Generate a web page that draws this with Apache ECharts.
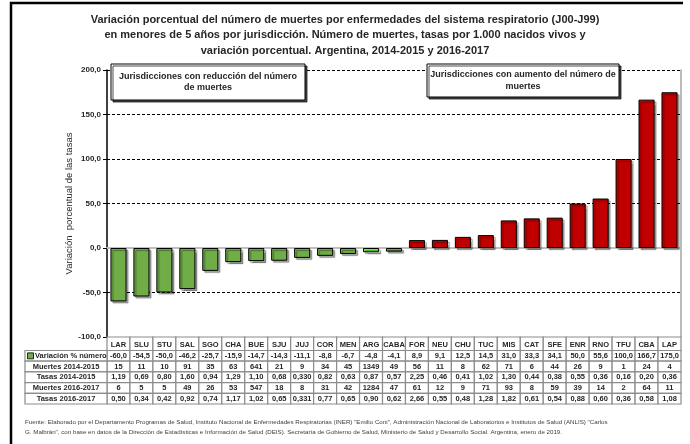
<!DOCTYPE html>
<html>
<head>
<meta charset="utf-8">
<script src="https://cdn.jsdelivr.net/npm/echarts@6/dist/echarts.min.js"></script>
<style>
  html, body { margin: 0; padding: 0; background: #fff; }
  #main { width: 690px; height: 444px; }
</style>
</head>
<body>
<div id="main"></div>
<script>
  // datos por jurisdicción
  var jurisdicciones = ['LAR','SLU','STU','SAL','SGO','CHA','BUE','SJU','JUJ','COR','MEN','ARG','CABA',
                        'FOR','NEU','CHU','TUC','MIS','CAT','SFE','ENR','RNO','TFU','CBA','LAP'];
  var variacion = [-60.0,-54.5,-50.0,-46.2,-25.7,-15.9,-14.7,-14.3,-11.1,-8.8,-6.7,-4.8,-4.1,
                   8.9,9.1,12.5,14.5,31.0,33.3,34.1,50.0,55.6,100.0,166.7,175.0];
  var muertes1415 = [15,11,10,91,35,63,641,21,9,34,45,1349,49,56,11,8,62,71,6,44,26,9,1,24,4];
  var tasas1415 = ['1,19','0,69','0,80','1,60','0,94','1,29','1,10','0,68','0,330','0,82','0,63','0,87','0,57',
                   '2,25','0,46','0,41','1,02','1,30','0,44','0,38','0,55','0,36','0,16','0,20','0,36'];
  var muertes1617 = [6,5,5,49,26,53,547,18,8,31,42,1284,47,61,12,9,71,93,8,59,39,14,2,64,11];
  var tasas1617 = ['0,50','0,34','0,42','0,92','0,74','1,17','1,02','0,65','0,331','0,77','0,65','0,90','0,62',
                   '2,66','0,55','0,48','1,28','1,82','0,61','0,54','0,88','0,60','0,36','0,58','1,08'];
  var filas = ['Variación % número','Muertes 2014-2015','Tasas 2014-2015','Muertes 2016-2017','Tasas 2016-2017'];

  var FONT = "'Liberation Sans', Arial, sans-serif";
  var VERDE = '#70ad47', VERDE_ARG = '#66ff33', ROJO = '#c00000';

  function fmt(v) { return v.toFixed(1).replace('.', ','); }

  var chart = echarts.init(document.getElementById('main'));

  chart.setOption({
    animation: false,
    title: {
      text: 'Variación porcentual del número de muertes por enfermedades del sistema respiratorio (J00-J99)\n' +
            'en menores de 5 años por jurisdicción. Número de muertes, tasas por 1.000 nacidos vivos y\n' +
            'variación porcentual. Argentina, 2014-2015 y 2016-2017',
      left: 'center',
      top: 7,
      textStyle: { fontFamily: FONT, fontSize: 11, fontWeight: 'bold', color: '#262626', lineHeight: 15.5 }
    },
    grid: { left: 107, right: 9, top: 70, bottom: 107 },
    xAxis: {
      type: 'category',
      data: jurisdicciones,
      axisLine: { onZero: true, lineStyle: { color: '#bfbfbf', width: 2 } },
      axisTick: { show: false },
      axisLabel: { show: false }
    },
    yAxis: [{
      type: 'value',
      min: -100, max: 200, interval: 50,
      name: 'Variación  porcentual de las tasas',
      nameLocation: 'middle',
      nameGap: 33,
      nameMoveOverlap: false,
      nameTextStyle: { fontFamily: FONT, fontSize: 9.5, color: '#262626' },
      axisLine: { show: true, lineStyle: { color: '#000', width: 1.5 } },
      axisTick: { show: true, length: 4, lineStyle: { color: '#000' } },
      axisLabel: { formatter: fmt, margin: 6, fontFamily: FONT, fontSize: 8, fontWeight: 'bold', color: '#262626' },
      splitLine: { lineStyle: { color: '#000', type: [3, 2], width: 1 } }
    }, {
      type: 'value',
      position: 'right',
      min: -100, max: 200, interval: 50,
      axisLine: { show: true, lineStyle: { color: '#a6a6a6', width: 1.5 } },
      axisTick: { show: false },
      axisLabel: { show: false },
      splitLine: { show: false }
    }],
    series: [{
      type: 'bar',
      barCategoryGap: '30%',
      data: variacion.map(function (v, i) {
        var c = v >= 0 ? ROJO : (jurisdicciones[i] === 'ARG' ? VERDE_ARG : VERDE);
        return { value: v, itemStyle: { color: c } };
      }),
      itemStyle: {
        borderColor: '#000', borderWidth: 1,
        shadowColor: 'rgba(0,0,0,0.35)', shadowOffsetX: 2, shadowOffsetY: 2, shadowBlur: 1
      }
    }]
  });

  // tabla de datos debajo del gráfico, alineada con las categorías
  var x0 = chart.convertToPixel({ xAxisIndex: 0 }, jurisdicciones[0]);
  var paso = chart.convertToPixel({ xAxisIndex: 0 }, jurisdicciones[1]) - x0;
  var yTop = chart.convertToPixel({ yAxisIndex: 0 }, -100);
  var gridLeft = 107, labelLeft = 25;
  var hHead = 13.5, hRow = 10.7;
  var valores = [variacion.map(fmt), muertes1415, tasas1415, muertes1617, tasas1617];
  var g = [];
  var borde = { stroke: '#8c8c8c', lineWidth: 1.2, fill: '#fff' };
  var txt = { fontFamily: FONT, fontSize: 7.5, fontWeight: 'bold', fill: '#262626', align: 'center', verticalAlign: 'middle' };

  jurisdicciones.forEach(function (j, i) {
    var cx = x0 + i * paso;
    g.push({ type: 'rect', shape: { x: cx - paso / 2, y: yTop, width: paso, height: hHead }, style: borde, z: 10 });
    g.push({ type: 'text', x: cx, y: yTop + hHead / 2 + 1, style: Object.assign({ text: j }, txt), z: 11 });
    valores.forEach(function (arr, r) {
      var y = yTop + hHead + r * hRow;
      g.push({ type: 'rect', shape: { x: cx - paso / 2, y: y, width: paso, height: hRow }, style: borde, z: 10 });
      g.push({ type: 'text', x: cx, y: y + hRow / 2, style: Object.assign({ text: String(arr[i]) }, txt), z: 11 });
    });
  });
  filas.forEach(function (f, r) {
    var y = yTop + hHead + r * hRow;
    g.push({ type: 'rect', shape: { x: labelLeft, y: y, width: gridLeft - labelLeft, height: hRow }, style: borde, z: 10 });
    if (r === 0) {
      g.push({ type: 'rect', shape: { x: labelLeft + 2.5, y: y + hRow / 2 - 3, width: 6, height: 6 },
               style: { fill: VERDE, stroke: '#000', lineWidth: 0.8 }, z: 11 });
      g.push({ type: 'text', x: labelLeft + 10, y: y + hRow / 2, style: Object.assign({ text: f }, txt, { align: 'left' }), z: 11 });
    } else {
      g.push({ type: 'text', x: (labelLeft + gridLeft) / 2, y: y + hRow / 2, style: Object.assign({ text: f }, txt), z: 11 });
    }
  });

  // recuadros de anotación
  function recuadro(x, y, w, h, texto) {
    g.push({ type: 'rect', shape: { x: x, y: y, width: w, height: h },
             style: { fill: '#fff', stroke: '#000', lineWidth: 1, shadowColor: 'rgba(0,0,0,0.7)', shadowOffsetX: 2, shadowOffsetY: 2 }, z: 20 });
    g.push({ type: 'text', x: x + w / 2, y: y + h / 2,
             style: { text: texto, fontFamily: FONT, fontSize: 9, fontWeight: 'bold', fill: '#262626',
                      align: 'center', verticalAlign: 'middle', lineHeight: 11.5 }, z: 21 });
  }
  recuadro(111, 64, 194, 36, 'Jurisdicciones con reducción del número\nde muertes');
  recuadro(427, 64, 192, 33, 'Jurisdicciones con aumento del número de\nmuertes');

  // marco exterior y fuente
  g.push({ type: 'polyline', shape: { points: [[11, 450], [11, 3], [683, 3]] }, style: { stroke: '#000', lineWidth: 2.5, fill: null }, z: 30 });
  g.push({ type: 'text', x: 25, y: 417,
           style: { text: 'Fuente: Elaborado por el Departamento Programas de Salud, Instituto Nacional de Enfermedades Respiratorias (INER) "Emilio Coni", Administración Nacional de Laboratorios e Institutos de Salud (ANLIS) "Carlos\n' +
                          'G. Malbrán", con base en datos de la Dirección de Estadísticas e Información de Salud (DEIS). Secretaría de Gobierno de Salud, Ministerio de Salud y Desarrollo Social. Argentina, enero de 2019.',
                    fontFamily: FONT, fontSize: 6.2, fill: '#404040', lineHeight: 10 }, z: 30 });

  chart.setOption({ graphic: g });
</script>
</body>
</html>
